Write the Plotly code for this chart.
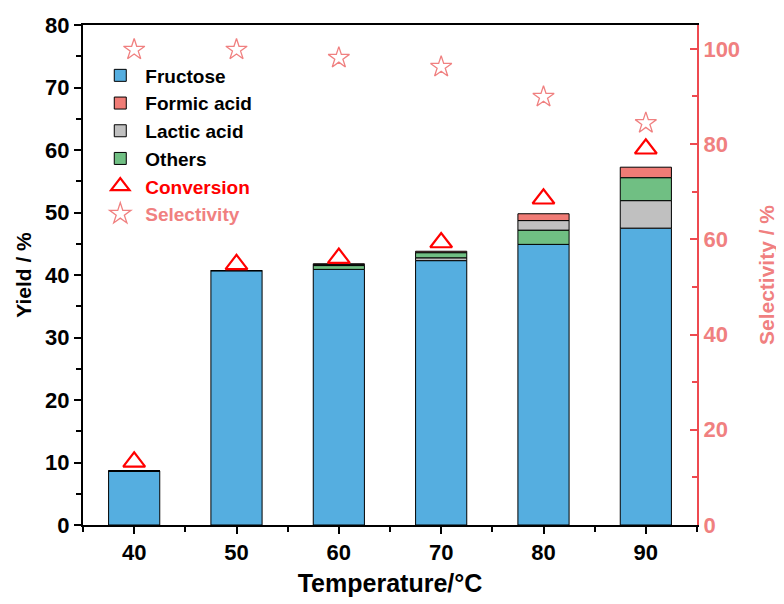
import numpy as np
import plotly.graph_objects as go

temps = [40, 50, 60, 70, 80, 90]
fructose = [8.65, 40.7, 40.9, 42.3, 44.9, 47.5]
lactic = [0.0, 0.0, 0.15, 0.45, 1.55, 4.4]
others = [0.0, 0.0, 0.6, 0.8, 2.25, 3.65]
formic = [0.0, 0.0, 0.15, 0.25, 1.1, 1.7]
conversion = [10.1, 41.7, 42.7, 45.2, 52.2, 60.2]
selectivity = [99.8, 99.8, 98.1, 96.2, 89.9, 84.4]
# stacking order (bottom to top) for each temperature
stack_order = [
    ["Fructose", "Lactic acid", "Others", "Formic acid"],
    ["Fructose", "Lactic acid", "Others", "Formic acid"],
    ["Fructose", "Others", "Lactic acid", "Formic acid"],
    ["Fructose", "Lactic acid", "Others", "Formic acid"],
    ["Fructose", "Others", "Lactic acid", "Formic acid"],
    ["Fructose", "Lactic acid", "Others", "Formic acid"],
]

series = {"Fructose": fructose, "Formic acid": formic, "Lactic acid": lactic, "Others": others}
colors = {"Fructose": "#55AEE0", "Formic acid": "#F07C76", "Lactic acid": "#C0C0C0", "Others": "#70BF83"}

bases = {k: [0.0] * len(temps) for k in series}
for i, order in enumerate(stack_order):
    acc = 0.0
    for k in order:
        bases[k][i] = acc
        acc += series[k][i]

FONT = "Liberation Sans"
fig = go.Figure()
for k in ["Fructose", "Formic acid", "Lactic acid", "Others"]:
    fig.add_trace(go.Bar(
        x=temps, y=series[k], base=bases[k], name=k, width=5,
        marker=dict(color=colors[k], line=dict(color="black", width=1)),
    ))

fig.add_trace(go.Scatter(
    x=temps, y=conversion, mode="markers",
    name="<span style='color:#FF0000'>Conversion</span>",
    marker=dict(symbol="triangle-up-open", size=19, color="#FF0000", line=dict(width=2.2, color="#FF0000")),
))
fig.add_trace(go.Scatter(
    x=temps, y=selectivity, mode="markers", yaxis="y2",
    name="<span style='color:#F08080'>Selectivity</span>",
    marker=dict(symbol="star-open", size=16, color="#F08080", line=dict(width=1.3, color="#F08080")),
))

tickfont = dict(family=FONT, size=22, color="black", weight="bold")
fig.update_layout(
    width=784, height=604,
    margin=dict(l=75, r=95, t=17, b=87),
    paper_bgcolor="white", plot_bgcolor="white",
    barmode="overlay",
    font=dict(family=FONT, weight="bold"),
    xaxis=dict(
        range=[35, 95], tick0=40, dtick=10, showgrid=False, zeroline=False, automargin=False,
        showline=True, linecolor="black", linewidth=2, mirror=True,
        ticks="outside", ticklen=7, tickwidth=2, tickcolor="black",
        minor=dict(dtick=5, tick0=35, ticks="outside", ticklen=5, tickwidth=2, tickcolor="black"),
        tickfont=tickfont,
        title=dict(text="Temperature/°C", font=dict(family=FONT, size=25, color="black", weight="bold"), standoff=10),
    ),
    yaxis=dict(
        range=[0, 80], dtick=10, showgrid=False, zeroline=False, automargin=False,
        showline=True, linecolor="black", linewidth=2,
        ticks="outside", ticklen=7, tickwidth=2, tickcolor="black",
        minor=dict(dtick=5, ticks="outside", ticklen=5, tickwidth=2, tickcolor="black"),
        tickfont=tickfont,
        title=dict(text="Yield / %", font=dict(family=FONT, size=21, color="black", weight="bold"), standoff=8),
    ),
    yaxis2=dict(
        range=[0, 105], dtick=20, overlaying="y", side="right", showgrid=False, zeroline=False, automargin=False,
        showline=True, linecolor="#EE4A50", linewidth=2,
        ticks="inside", ticklen=7, tickwidth=2, tickcolor="#EE4A50",
        minor=dict(dtick=10, ticks="inside", ticklen=5, tickwidth=2, tickcolor="#EE4A50"),
        tickfont=dict(family=FONT, size=22, color="#F08080", weight="bold"),
        title=dict(text="Selectivity / %", font=dict(family=FONT, size=21, color="#F08080", weight="bold"), standoff=20),
    ),
    legend=dict(
        x=0.02, y=0.937, xanchor="left", yanchor="top",
        bgcolor="rgba(0,0,0,0)", borderwidth=0,
        font=dict(family=FONT, size=19, color="black", weight="bold"),
        tracegroupgap=2, itemwidth=40,
    ),
    showlegend=True,
)

fig.write_html("out.html")
